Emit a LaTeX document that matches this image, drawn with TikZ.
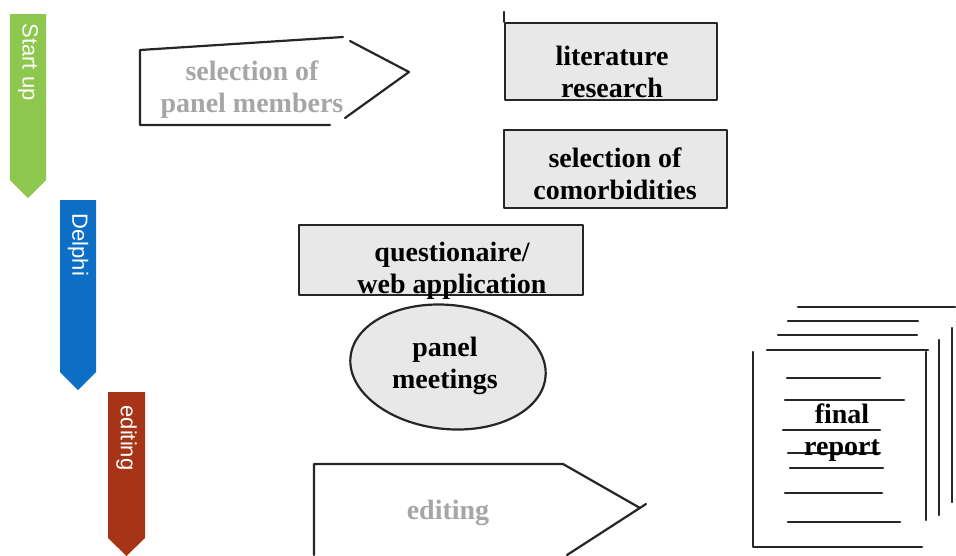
\documentclass[tikz,border=0pt]{standalone}
\usepackage{fontspec}
\setmainfont{Liberation Serif}
\setsansfont{Liberation Sans}
\usetikzlibrary{positioning,shapes.geometric}
\definecolor{startgreen}{RGB}{141,199,78}
\definecolor{delphiblue}{RGB}{12,110,196}
\definecolor{editred}{RGB}{168,52,24}
\definecolor{boxfill}{RGB}{232,232,232}
\definecolor{faded}{RGB}{166,166,166}

\begin{document}
\begin{tikzpicture}[x=1pt,y=-1pt,
            sketch/.style={draw=black!85, line width=2.2pt, line cap=round, line join=round},
            graybox/.style={
                rectangle, sketch,
                fill=boxfill,
                inner sep=0pt
            },
            boxtext/.style={align=center, font=\fontsize{28}{32}\selectfont\bfseries},
            fadedtext/.style={boxtext, text=faded},
            phase/.style={rotate=-90, anchor=west, text=white, font=\fontsize{22}{24}\selectfont\sffamily},
        ]
            \useasboundingbox[fill=white] (0,0) rectangle (956,555);

            % phase banners
            \fill[startgreen] (10,14) -- (46,14) -- (46,180) -- (28,198) -- (10,180) -- cycle;
            \node [phase] (startup) at (28,20) {Start up};
            \fill[delphiblue] (60,200) -- (96,200) -- (96,372) -- (78,390) -- (60,372) -- cycle;
            \node [phase] (delphi) at (78,210) {Delphi};
            \fill[editred] (108,392) -- (145,392) -- (145,538) -- (126.5,556) -- (108,538) -- cycle;
            \node [phase] (editphase) at (126.5,402) {editing};

            % start up
            \draw[sketch] (330,125) -- (140,125) -- (140,50) -- (343,37);
            \draw[sketch] (350,41) -- (409,72) -- (345,118);
            \node [fadedtext] (panelsel) at (252,90) {selection of\\panel members};

            \node [graybox, minimum width=212pt, minimum height=77pt] (literature) at (611,61.5) {};
            \draw[sketch] (literature.north west) -- ++(0,-10);
            \node [boxtext] (literaturetext) at (612,72) {literature\\research};

            \node [graybox, minimum width=223pt, minimum height=78pt] (comorb) at (615.5,169) {};
            \node [boxtext] (comorbtext) at (615,174) {selection of\\comorbidities};

            % delphi
            \node [graybox, minimum width=284pt, minimum height=70pt] (quest) at (441,260) {};
            \node [boxtext] (questtext) at (452,271) {questionaire/\\web application};

            \node [ellipse, sketch, fill=boxfill, minimum width=196pt, minimum height=124pt, rotate=-6] (meeting) at (448,367) {};
            \node [boxtext] (meetingtext) at (445,366) {panel\\meetings};

            % editing
            \draw[sketch] (314,555) -- (314,464) -- (563,464) -- (640,508);
            \draw[sketch] (567,555) -- (646,504);
            \node [fadedtext] (edittext) at (448,513) {editing};

            % final report
            \draw[sketch] (753,352) -- (753,547) -- (922,547);
            \draw[sketch] (767,350) -- (928,350);
            \draw[sketch] (926,352) -- (926,520);
            \draw[sketch] (778,335) -- (917,335);
            \draw[sketch] (939,340) -- (939,515);
            \draw[sketch] (788,321) -- (918,321);
            \draw[sketch] (798,307) -- (955,307);
            \draw[sketch] (952,328) -- (952,502);
            \draw[sketch] (787,378) -- (880,378);
            \draw[sketch] (785,400) -- (904,400);
            \draw[sketch] (783,430) -- (880,430);
            \draw[sketch] (788,453) -- (880,453);
            \draw[sketch] (790,468) -- (883,468);
            \draw[sketch] (785,493) -- (882,493);
            \draw[sketch] (788,522) -- (900,522);
            \node [boxtext] (report) at (842,433) {final\\report};

        \end{tikzpicture}
\end{document}
